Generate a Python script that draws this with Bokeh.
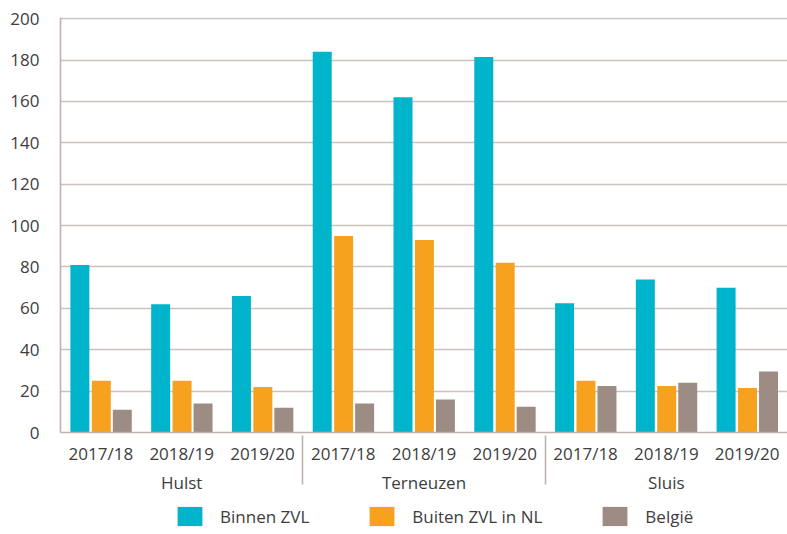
from bokeh.plotting import figure
from bokeh.layouts import column
from bokeh.models import (FactorRange, Range1d, Legend, LegendItem,
                          ColumnDataSource, FixedTicker)
from bokeh.transform import dodge
from bokeh.embed import file_html
from bokeh.resources import INLINE

groups = ["Hulst", "Terneuzen", "Sluis"]
years = ["2017/18", "2018/19", "2019/20"]
binnen_zvl = [81, 62, 66, 184, 162, 181.5, 62.5, 74, 70]
buiten_zvl_nl = [25, 25, 22, 95, 93, 82, 25, 22.5, 21.5]
belgie = [11, 14, 12, 14, 16, 12.5, 22.5, 24, 29.5]
series_names = ["Binnen ZVL", "Buiten ZVL in NL", "België"]
y_ticks = [0, 20, 40, 60, 80, 100, 120, 140, 160, 180, 200]

colors = ["#00b4cb", "#f6a21e", "#9d8c84"]
FONT = "Open Sans"
TXT = "#3d3d3d"
LINE = "#bdb2ad"
FS = "17px"

factors = [(g, y) for g in groups for y in years]
src = ColumnDataSource(dict(x=factors, b=binnen_zvl, o=buiten_zvl_nl, g=belgie))
xr = FactorRange(*factors, factor_padding=0, group_padding=0, range_padding=0)

p = figure(
    x_range=xr, y_range=Range1d(0, 200.6),
    frame_width=727, frame_height=415,
    min_border_left=60, min_border_right=0, min_border_top=17, min_border_bottom=0,
    output_backend="svg", toolbar_location=None,
)

offsets = [-0.26, 0.005, 0.265]
cols = ["b", "o", "g"]
for col, off, c in zip(cols, offsets, colors):
    p.vbar(x=dodge("x", off, range=xr), top=col, width=0.235,
           source=src, fill_color=c, line_color=None)

p.outline_line_color = None
p.xgrid.grid_line_color = None
p.ygrid.grid_line_color = "#cbc2bd"
p.ygrid.grid_line_width = 1.6
p.yaxis.ticker = FixedTicker(ticks=y_ticks)

for ax in (p.xaxis[0], p.yaxis[0]):
    ax.axis_line_color = LINE
    ax.axis_line_width = 1.6
    ax.major_tick_line_color = None
    ax.minor_tick_line_color = None
    ax.major_label_text_font = FONT
    ax.major_label_text_font_size = FS
    ax.major_label_text_color = TXT

p.yaxis.major_label_standoff = 15
xa = p.xaxis[0]
xa.major_label_standoff = 3
xa.group_text_font = FONT
xa.group_text_font_size = FS
xa.group_text_color = TXT
xa.group_text_font_style = "normal"
xa.separator_line_color = LINE
xa.separator_line_width = 1.6

# legend strip
q = figure(
    x_range=xr, y_range=Range1d(0, 1), width=787, height=32,
    min_border=0, x_axis_location=None, y_axis_location=None,
    output_backend="svg", toolbar_location=None,
)
q.outline_line_color = None
q.xgrid.grid_line_color = None
q.ygrid.grid_line_color = None
rs = []
for col, off, c in zip(cols, offsets, colors):
    r = q.vbar(x=dodge("x", off, range=xr), top=col, width=0.235,
               source=src, fill_color=c, line_color=None, visible=False)
    rs.append(r)

legend = Legend(
    items=[LegendItem(label=n, renderers=[r]) for n, r in zip(series_names, rs)],
    orientation="horizontal", location=(114, 0),
    glyph_width=31, glyph_height=24, label_standoff=15, spacing=57,
    padding=0, margin=0, border_line_color=None, background_fill_alpha=0,
    label_text_font=FONT, label_text_font_size=FS, label_text_color=TXT,
)
q.add_layout(legend, "center")

open("out.html", "w").write(file_html(column(p, q, spacing=0), INLINE))
